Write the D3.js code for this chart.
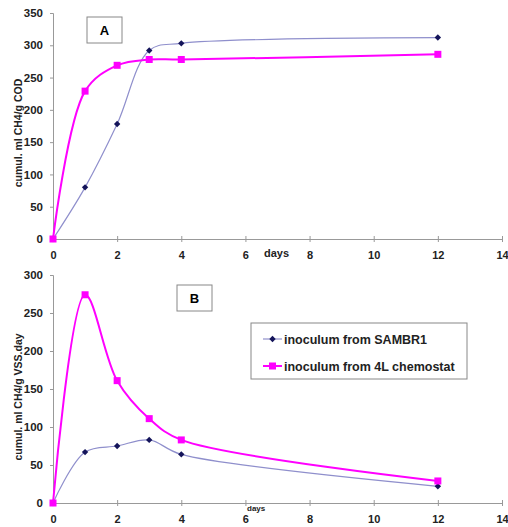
<!DOCTYPE html>
<html>
<head>
<meta charset="utf-8">
<script src="https://cdn.jsdelivr.net/npm/d3@7"></script>
<style>
  body { margin: 0; background: #fff; }
  text { font-family: "Liberation Sans", Arial, sans-serif; }
</style>
</head>
<body>
<div id="chart"></div>
<script>
// values
const days = [0, 1, 2, 3, 4, 12];
const cumSambr = [0, 80, 178, 292, 303, 312];
const cumChemo = [0, 229, 269, 278, 278, 286];
const rateSambr = [0, 67, 75, 83, 64, 22];
const rateChemo = [0, 274, 161, 111, 83, 29];
const xTicks = [0, 2, 4, 6, 8, 10, 12, 14];
const legendNames = ["inoculum from SAMBR1", "inoculum from 4L chemostat"];

const width = 508, height = 527;
const navy = "#14145a", lav = "#8f8fcc", mag = "#ff00ff";

const svg = d3.select("#chart").append("svg")
    .attr("width", width).attr("height", height);

const x = d3.scaleLinear().domain([0, 14]).range([53, 502]);
const diamond = d3.symbol(d3.symbolDiamond2, 26);

// one panel of the figure
function panel(opts) {
    const g = svg.append("g");
    const y = d3.scaleLinear().domain([0, opts.ymax]).range([opts.bottom, opts.top]);

    // y axis
    const ya = g.append("g").attr("transform", `translate(${x(0)},0)`)
        .call(d3.axisLeft(y).tickValues(d3.range(0, opts.ymax + 1, 50)).tickSize(3).tickPadding(7));
    ya.select(".domain").attr("stroke", "#999");
    ya.selectAll(".tick line").attr("stroke", "#999");
    ya.selectAll("text").attr("font-size", 11.5).attr("font-weight", "bold").attr("fill", "#222");

    // x axis, ticks cross the line
    const xa = g.append("g").attr("transform", `translate(0,${opts.bottom})`)
        .call(d3.axisBottom(x).tickValues(xTicks).tickSizeInner(2).tickSizeOuter(0).tickPadding(opts.pad));
    xa.select(".domain").attr("stroke", "#999");
    xa.selectAll(".tick line").attr("stroke", "#999").attr("y1", -3).attr("y2", 3);
    xa.selectAll("text").attr("font-size", 11).attr("font-weight", "bold").attr("fill", "#222");

    g.append("text").attr("x", opts.daysX).attr("y", opts.daysY)
        .attr("font-size", opts.daysSize).attr("font-weight", "bold").attr("fill", "#222").text("days");

    g.append("text")
        .attr("transform", `translate(22,${opts.labelY}) rotate(-90)`)
        .attr("text-anchor", "middle").attr("font-size", 10.5).attr("font-weight", "bold")
        .attr("fill", "#222")
        .text(opts.ylabel);

    // panel letter box
    g.append("rect").attr("x", opts.box[0]).attr("y", opts.box[1])
        .attr("width", 35).attr("height", 26)
        .attr("fill", "#fff").attr("stroke", "#888");
    g.append("text").attr("x", opts.box[0] + 17.5).attr("y", opts.box[1] + 18)
        .attr("text-anchor", "middle").attr("font-size", 13).attr("font-weight", "bold")
        .text(opts.letter);

    const line = d3.line().x((d, i) => x(days[i])).y(d => y(d)).curve(d3.curveCatmullRom.alpha(0.5));

    g.append("path").datum(opts.s1).attr("d", line)
        .attr("fill", "none").attr("stroke", lav).attr("stroke-width", 1.2);
    g.append("path").datum(opts.s2).attr("d", line)
        .attr("fill", "none").attr("stroke", mag).attr("stroke-width", 2);

    g.selectAll(".dia").data(opts.s1).join("path")
        .attr("transform", (d, i) => `translate(${x(days[i])},${y(d)})`)
        .attr("d", diamond)
        .attr("fill", navy);
    g.selectAll(".sq").data(opts.s2).join("rect")
        .attr("x", (d, i) => x(days[i]) - 3.5).attr("y", d => y(d) - 3.5)
        .attr("width", 7).attr("height", 7).attr("fill", mag);
}

panel({
    ymax: 350, top: 13, bottom: 239, s1: cumSambr, s2: cumChemo,
    ylabel: "cumul. ml CH4/g COD", labelY: 133, letter: "A", box: [87, 17],
    daysX: 264, daysY: 257, daysSize: 11, pad: 10
});

panel({
    ymax: 300, top: 275, bottom: 503, s1: rateSambr, s2: rateChemo,
    ylabel: "cumul. ml CH4/g VSS.day", labelY: 397, letter: "B", box: [177, 285],
    daysX: 247, daysY: 511, daysSize: 8, pad: 10
});

// legend for panel B
const lg = svg.append("g");
lg.append("rect").attr("x", 251).attr("y", 323).attr("width", 216).attr("height", 56)
    .attr("fill", "#fff").attr("stroke", "#888");
legendNames.forEach((name, i) => {
    const yy = 339 + i * 27;
    lg.append("line").attr("x1", 263).attr("x2", 282).attr("y1", yy).attr("y2", yy)
        .attr("stroke", i ? mag : lav).attr("stroke-width", i ? 2 : 1.2);
    if (i) {
        lg.append("rect").attr("x", 269).attr("y", yy - 3.5).attr("width", 7).attr("height", 7).attr("fill", mag);
    } else {
        lg.append("path").attr("transform", `translate(272.5,${yy})`)
            .attr("d", diamond).attr("fill", navy);
    }
    lg.append("text").attr("x", 284).attr("y", yy + 4.5)
        .attr("font-size", 12.5).attr("font-weight", "bold").attr("fill", "#222")
        .text(name);
});
</script>
</body>
</html>
